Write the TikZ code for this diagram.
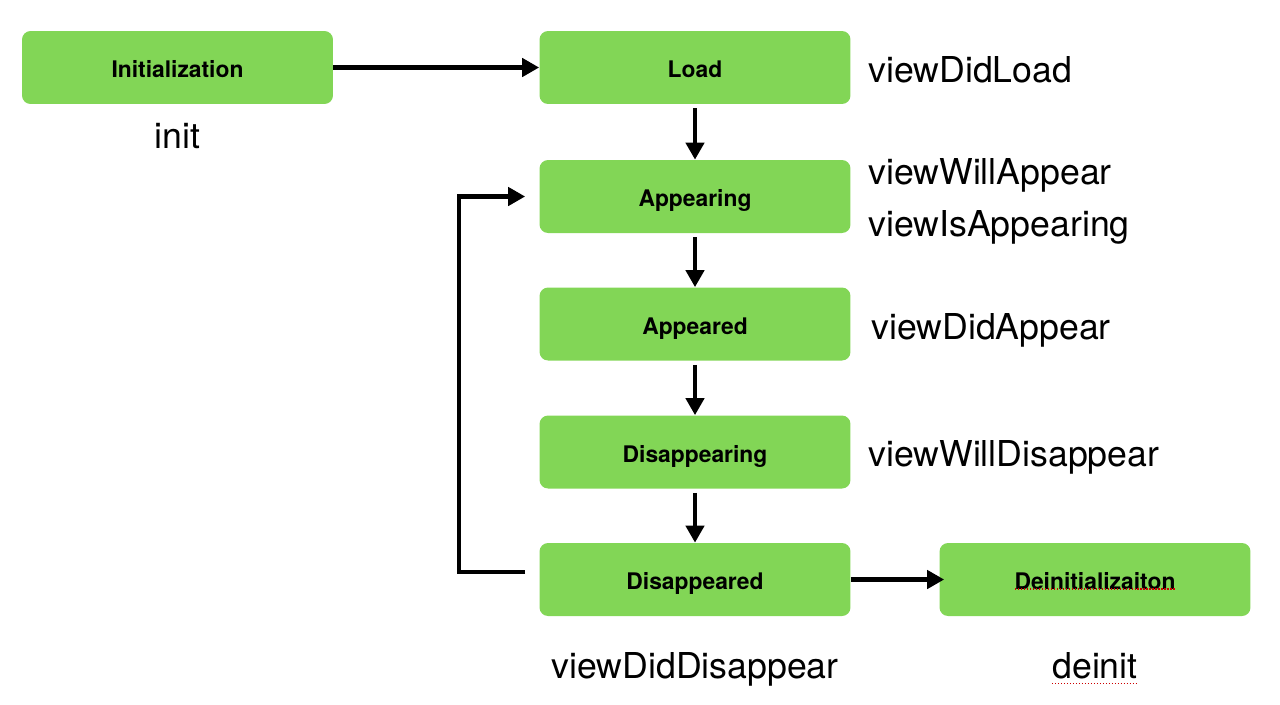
\documentclass[tikz,border=0pt]{standalone}
\usepackage{fontspec}
\setmainfont{TeX Gyre Heros}
\usetikzlibrary{arrows.meta}
\definecolor{vertboite}{RGB}{130,214,86}
\begin{document}
\begin{tikzpicture}[x=0.02cm,y=-0.02cm]
	% Styles
	\tikzstyle{fleche}=[-{Triangle[length=0.34cm,width=0.36cm]},line width=0.09cm]
	\tikzstyle{etat}=[fill=vertboite,rounded corners=0.17cm,minimum width=6.22cm,minimum height=1.46cm,text height=11.4pt,text depth=0pt,font=\fontsize{13}{15}\selectfont\bfseries]
	\tikzstyle{methode}=[black,font=\fontsize{20.3}{24}\selectfont,inner sep=0pt,text depth=0pt]
	\tikzstyle{souligne}=[red!80!black,densely dotted,line width=0.7pt]
	% Dimensions
	\def\ColonneA{177.5}
	\def\ColonneB{695}
	\def\ColonneC{1095}
	\def\Methodes{868}
	\useasboundingbox (0,0) rectangle (1280,704);
	% Etats
	\node[etat] (init) at ({\ColonneA},67.5) {Initialization};
	\node[etat] (load) at ({\ColonneB},67.5) {Load};
	\node[etat] (appearing) at ({\ColonneB},196.5) {Appearing};
	\node[etat] (appeared) at ({\ColonneB},324) {Appeared};
	\node[etat] (disappearing) at ({\ColonneB},452) {Disappearing};
	\node[etat] (disappeared) at ({\ColonneB},579.5) {Disappeared};
	\node[etat] (deinit) at ({\ColonneC},579.5) {Deinitializaiton};
	% Methodes
	\node[methode] (mInit) at ({\ColonneA},136) {init};
	\node[methode,anchor=west] (mLoad) at ({\Methodes},69) {viewDidLoad};
	\node[methode,anchor=west] (mWill) at ({\Methodes},171) {viewWillAppear};
	\node[methode,anchor=west] (mIs) at ({\Methodes},223) {viewIsAppearing};
	\node[methode,anchor=west] (mDid) at ({\Methodes+3},326) {viewDidAppear};
	\node[methode,anchor=west] (mWillDis) at ({\Methodes},453) {viewWillDisappear};
	\node[methode] (mDidDis) at ({\ColonneB},665) {viewDidDisappear};
	\node[methode] (mDeinit) at ({\ColonneC},665) {deinit};
	% Soulignements
	\draw[souligne] ([xshift=-1.6cm,yshift=-0.19cm]deinit.center) -- ([xshift=1.6cm,yshift=-0.19cm]deinit.center);
	\draw[souligne] ([yshift=-0.1cm]mDeinit.south west) -- ([yshift=-0.1cm]mDeinit.south east);
	% Arcs
	\draw[fleche] (init.east) -- (load.west);
	\draw[fleche,shorten <=0.08cm] (load.south) -- (appearing.north);
	\draw[fleche,shorten <=0.08cm] (appearing.south) -- (appeared.north);
	\draw[fleche,shorten <=0.08cm] (appeared.south) -- (disappearing.north);
	\draw[fleche,shorten <=0.08cm] (disappearing.south) -- (disappeared.north);
	\draw[fleche] (disappeared.east) -- ([xshift=0.1cm]deinit.west);
	\draw[fleche] ([shift={(-0.28cm,0.15cm)}]disappeared.west) -- ++(-1.32cm,0) |- ([xshift=-0.28cm]appearing.west);
\end{tikzpicture}
\end{document}
